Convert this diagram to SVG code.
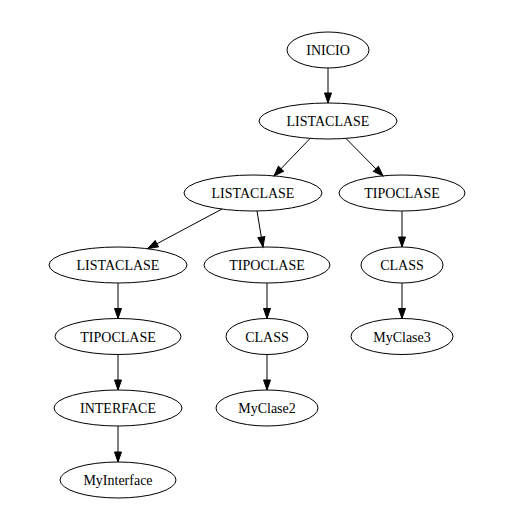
<svg xmlns="http://www.w3.org/2000/svg" width="527" height="525" viewBox="0 0 527 525">
<style>
.n ellipse{fill:none;stroke:#000;stroke-width:1}
.n text{font-family:"Liberation Serif","Times New Roman",serif;font-size:14px;text-anchor:middle;fill:#000}
#edges line{stroke:#000;stroke-width:1;marker-end:url(#ah)}
</style>
<defs>
<marker id="ah" markerUnits="userSpaceOnUse" markerWidth="11" markerHeight="8" refX="10" refY="3.5" orient="auto" overflow="visible">
<path d="M0,0 L10,3.5 L0,7 Z" fill="#000" stroke="#000" stroke-width="1"/>
</marker>
</defs>
<rect width="527" height="525" fill="#fff"/>
<g id="edges">
<line x1="328" y1="68" x2="328" y2="103"/>
<line x1="310" y1="138.5" x2="274" y2="176"/>
<line x1="346" y1="138.5" x2="383" y2="176"/>
<line x1="222" y1="209" x2="148" y2="248.5"/>
<line x1="257" y1="211" x2="263" y2="247"/>
<line x1="402" y1="211" x2="402" y2="247"/>
<line x1="118" y1="283" x2="118" y2="318.5"/>
<line x1="267" y1="283" x2="267" y2="318.5"/>
<line x1="402" y1="283" x2="402" y2="318.5"/>
<line x1="118" y1="354.5" x2="118" y2="390"/>
<line x1="267" y1="354.5" x2="267" y2="390"/>
<line x1="118" y1="426" x2="118" y2="462"/>
</g>
<g id="n_inicio" class="n"><ellipse cx="328" cy="50" rx="41" ry="18"/><text x="328" y="55">INICIO</text></g>
<g id="n_lista1" class="n"><ellipse cx="328" cy="121" rx="69" ry="18"/><text x="328" y="126">LISTACLASE</text></g>
<g id="n_lista2" class="n"><ellipse cx="253" cy="193" rx="69" ry="18"/><text x="253" y="198">LISTACLASE</text></g>
<g id="n_tipo1" class="n"><ellipse cx="402" cy="193" rx="63" ry="18"/><text x="402" y="198">TIPOCLASE</text></g>
<g id="n_lista3" class="n"><ellipse cx="118" cy="265" rx="69" ry="18"/><text x="118" y="270">LISTACLASE</text></g>
<g id="n_tipo2" class="n"><ellipse cx="267" cy="265" rx="63" ry="18"/><text x="267" y="270">TIPOCLASE</text></g>
<g id="n_class1" class="n"><ellipse cx="402" cy="265" rx="41" ry="18"/><text x="402" y="270">CLASS</text></g>
<g id="n_tipo3" class="n"><ellipse cx="118" cy="336.5" rx="63" ry="18"/><text x="118" y="341.5">TIPOCLASE</text></g>
<g id="n_class2" class="n"><ellipse cx="267" cy="336.5" rx="41" ry="18"/><text x="267" y="341.5">CLASS</text></g>
<g id="n_myclase3" class="n"><ellipse cx="402" cy="336.5" rx="51" ry="18"/><text x="402" y="341.5">MyClase3</text></g>
<g id="n_interface" class="n"><ellipse cx="118" cy="408" rx="64" ry="18"/><text x="118" y="413">INTERFACE</text></g>
<g id="n_myclase2" class="n"><ellipse cx="267" cy="408" rx="51" ry="18"/><text x="267" y="413">MyClase2</text></g>
<g id="n_myinterface" class="n"><ellipse cx="118" cy="480" rx="58" ry="18"/><text x="118" y="485">MyInterface</text></g>
</svg>
